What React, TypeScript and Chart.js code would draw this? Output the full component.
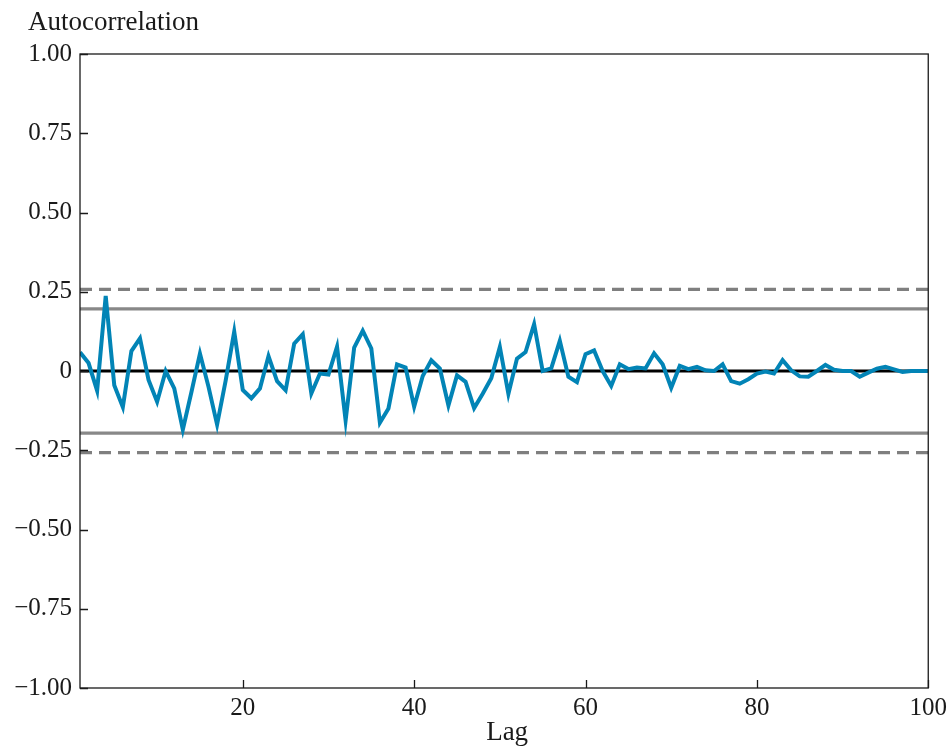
import React, { useEffect, useRef } from "react";
import { Chart, registerables } from "chart.js";

Chart.register(...registerables);

// Lags 1..100 and the sample autocorrelation at each lag
const lags: number[] = Array.from({ length: 100 }, (_, i) => i + 1);
const acf: number[] = [
  0.059, 0.025, -0.062, 0.237, -0.045, -0.114, 0.063, 0.103, -0.028, -0.097,
  0.0, -0.055, -0.185, -0.067, 0.055, -0.05, -0.169, -0.03, 0.124, -0.06,
  -0.086, -0.055, 0.047, -0.032, -0.061, 0.086, 0.116, -0.071, -0.008, -0.011,
  0.077, -0.156, 0.074, 0.127, 0.071, -0.163, -0.118, 0.021, 0.011, -0.113,
  -0.016, 0.034, 0.008, -0.109, -0.014, -0.034, -0.117, -0.072, -0.023, 0.076,
  -0.072, 0.039, 0.06, 0.148, 0.0, 0.008, 0.095, -0.018, -0.035, 0.053,
  0.065, 0.0, -0.047, 0.021, 0.006, 0.011, 0.008, 0.056, 0.021, -0.053,
  0.016, 0.006, 0.013, 0.002, 0.0, 0.021, -0.032, -0.04, -0.026, -0.008,
  -0.002, -0.008, 0.034, 0.002, -0.017, -0.018, 0.0, 0.019, 0.004, 0.0,
  0.0, -0.018, -0.005, 0.007, 0.013, 0.005, -0.003, 0.0, 0.0, 0.0,
];

// Confidence bands (95% solid, 99% dashed) and the zero reference
const band95: number[] = [0.196, -0.196];
const band99: number[] = [0.2576, -0.2576];
const zeroLine: number[] = [0];

const xTicks: number[] = [20, 40, 60, 80, 100];
const yTicks: number[] = [-1, -0.75, -0.5, -0.25, 0, 0.25, 0.5, 0.75, 1];

const xTitle = "Lag";
const yTitle = "Autocorrelation";

const SERIF = '"Liberation Serif", "Times New Roman", Times, serif';

const hline = (v: number) => [
  { x: lags[0], y: v },
  { x: lags[lags.length - 1], y: v },
];

const fmtY = (v: number) => {
  if (Math.abs(v) < 1e-9) return "0";
  return (v < 0 ? "\u2212" : "") + Math.abs(v).toFixed(2);
};

// Frame, inward tick marks and axis titles
const decorPlugin = {
  id: "decor",
  afterDraw(chart: any) {
    const { ctx, chartArea, scales } = chart;
    const { left, right, top, bottom } = chartArea;
    ctx.save();
    ctx.strokeStyle = "#1a1a1a";
    ctx.lineWidth = 1.3;
    ctx.strokeRect(left, top, right - left, bottom - top);

    ctx.beginPath();
    for (const v of yTicks) {
      const py = Math.round(scales.y.getPixelForValue(v)) + 0.5;
      ctx.moveTo(left, py);
      ctx.lineTo(left + 8, py);
    }
    for (const v of xTicks) {
      const px = Math.round(scales.x.getPixelForValue(v)) + 0.5;
      ctx.moveTo(px, bottom);
      ctx.lineTo(px, bottom - 8);
    }
    ctx.stroke();

    ctx.fillStyle = "#1a1a1a";
    ctx.font = `27px ${SERIF}`;
    ctx.textBaseline = "alphabetic";
    ctx.textAlign = "left";
    ctx.fillText(yTitle, 28, 29.5);
    ctx.textAlign = "center";
    ctx.fillText(xTitle, (left + right) / 2 + 3, 740);
    ctx.restore();
  },
};

export default function App() {
  const canvasRef = useRef<HTMLCanvasElement | null>(null);

  useEffect(() => {
    document.body.style.margin = "0";
    const canvas = canvasRef.current;
    if (!canvas) return;

    const datasets: any[] = [
      {
        label: "acf",
        data: lags.map((l, i) => ({ x: l, y: acf[i] })),
        borderColor: "#0284b6",
        borderWidth: 4,
        pointRadius: 0,
        tension: 0,
        order: 0,
      },
      ...zeroLine.map((v) => ({
        label: "zero",
        data: hline(v),
        borderColor: "#000000",
        borderWidth: 3,
        pointRadius: 0,
        order: 1,
      })),
      ...band95.map((v) => ({
        label: "95%",
        data: hline(v),
        borderColor: "#888888",
        borderWidth: 3.2,
        pointRadius: 0,
        order: 2,
      })),
      ...band99.map((v) => ({
        label: "99%",
        data: hline(v),
        borderColor: "#7f7f7f",
        borderWidth: 3.2,
        borderDash: [12, 7],
        pointRadius: 0,
        order: 3,
      })),
    ];

    const chart = new Chart(canvas, {
      type: "line",
      data: { datasets },
      plugins: [decorPlugin],
      options: {
        animation: false,
        responsive: false,
        maintainAspectRatio: false,
        layout: { padding: { top: 54, right: 21, left: 0, bottom: 0 } },
        plugins: { legend: { display: false }, tooltip: { enabled: false } },
        scales: {
          x: {
            type: "linear",
            min: 1,
            max: 100,
            grid: { display: false, drawTicks: false },
            border: { display: false },
            afterBuildTicks: (s: any) => {
              s.ticks = xTicks.map((v) => ({ value: v }));
            },
            afterFit: (s: any) => {
              s.height = 59;
            },
            ticks: {
              autoSkip: false,
              maxRotation: 0,
              padding: 5,
              color: "#1a1a1a",
              font: { family: SERIF, size: 25 },
              callback: (v: any) => String(v),
            },
          },
          y: {
            type: "linear",
            min: -1,
            max: 1,
            grid: { display: false, drawTicks: false },
            border: { display: false },
            afterBuildTicks: (s: any) => {
              s.ticks = yTicks.map((v) => ({ value: v }));
            },
            afterFit: (s: any) => {
              s.width = 80;
            },
            ticks: {
              autoSkip: false,
              padding: 8,
              color: "#1a1a1a",
              font: { family: SERIF, size: 25 },
              callback: (v: any) => fmtY(Number(v)),
            },
          },
        },
      },
    } as any);

    return () => chart.destroy();
  }, []);

  return (
    <canvas
      ref={canvasRef}
      width={952}
      height={747}
      style={{ display: "block", width: 952, height: 747 }}
    />
  );
}
